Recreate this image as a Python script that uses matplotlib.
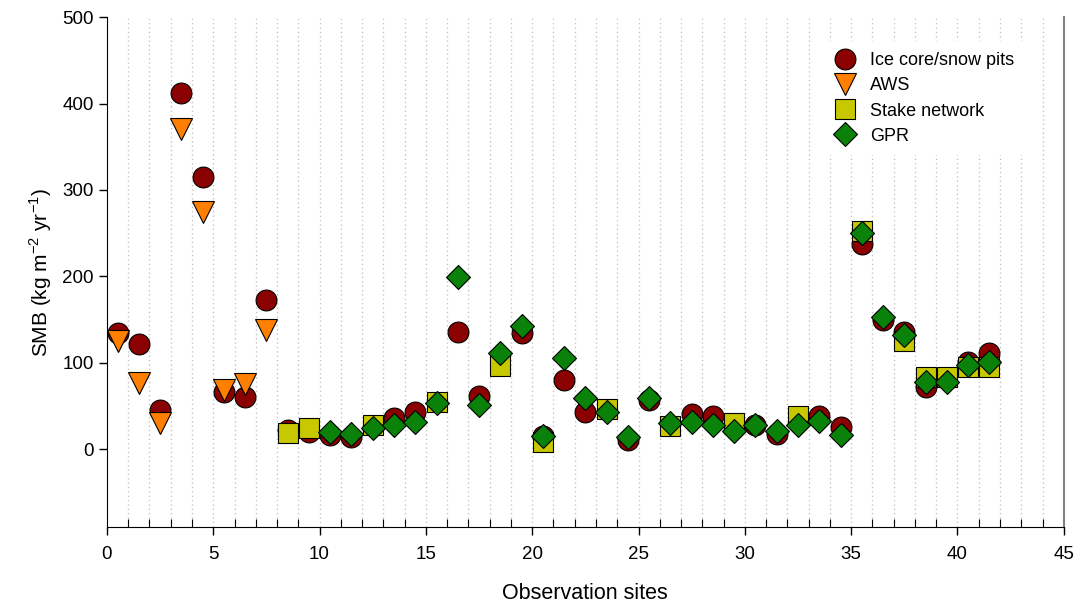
import numpy as np
import matplotlib.pyplot as plt

plt.rcParams['font.family'] = ['Liberation Sans', 'DejaVu Sans']
plt.rcParams['mathtext.fontset'] = 'custom'
plt.rcParams['mathtext.rm'] = 'Liberation Sans'

nan = np.nan
sites = np.arange(1, 43)

ice_core = [134, 122, 45, 412, 315, 66, 60, 173, 22, 20,
            17, 14, nan, 36, 43, nan, 136, 62, nan, 134,
            15, 80, 43, nan, 11, 57, nan, 41, 39, nan,
            28, 18, nan, 39, 26, 238, 149, 136, 72, nan,
            101, 111]
aws = [125, 77, 30, 370, 274, 68, 75, 138]
stake = {9: 19, 10: 24, 13: 28, 16: 55, 19: 96, 21: 8, 24: 46, 27: 27,
         30: 30, 33: 38, 36: 253, 38: 125, 39: 84, 40: 84, 41: 95, 42: 95}
gpr = {11: 20, 12: 18, 13: 24, 14: 28, 15: 32, 16: 53, 17: 199, 18: 51,
       19: 111, 20: 143, 21: 15, 22: 106, 23: 59, 24: 43, 25: 14, 26: 59,
       27: 30, 28: 32, 29: 28, 30: 21, 31: 28, 32: 21, 33: 28, 34: 33,
       35: 16, 36: 250, 37: 153, 38: 132, 39: 78, 40: 78, 41: 97, 42: 101}

x = sites - 0.5

fig = plt.figure(figsize=(10.8, 6.11), dpi=100)
ax = fig.add_axes([0.099, 0.1375, 0.886, 0.8345])

for k in range(1, 45):
    ax.axvline(k, color='#bdbdbd', lw=0.9, ls=(0, (1, 2.5)), zorder=0)

ax.plot(x, ice_core, 'o', color='#8b0000', mec='black', mew=0.8,
        ms=15, ls='none', label='Ice core/snow pits', zorder=2)
ax.plot(x[:len(aws)], aws, 'v', color='#ff8000', mec='black', mew=0.8,
        ms=16, ls='none', label='AWS', zorder=3)
ax.plot(np.array(list(stake.keys())) - 0.5, list(stake.values()), 's',
        color='#c8c800', mec='black', mew=0.8, ms=14, ls='none',
        label='Stake network', zorder=4)
ax.plot(np.array(list(gpr.keys())) - 0.5, list(gpr.values()), 'D',
        color='#0a820a', mec='black', mew=0.8, ms=12.5, ls='none',
        label='GPR', zorder=5)

ax.set_xlim(0, 45)
ax.set_ylim(-90, 500)
ax.set_xticks(np.arange(0, 46, 5))
ax.set_xticks(np.arange(0, 46, 1), minor=True)
ax.set_yticks(np.arange(0, 501, 100))
ax.tick_params(axis='both', labelsize=13.5, direction='out', length=6, width=1)
ax.tick_params(axis='x', pad=8)
ax.tick_params(axis='x', which='minor', direction='in', length=6, width=0.8)
ax.tick_params(axis='y', which='minor', left=False)

ax.spines['top'].set_visible(False)
ax.spines['right'].set_color('#808080')
ax.spines['right'].set_linewidth(1.5)

ax.set_xlabel('Observation sites', fontsize=15.5, labelpad=14)
ax.set_ylabel('SMB (kg m$^{\\mathregular{-2}}$ yr$^{\\mathregular{-1}}$)',
              fontsize=15, labelpad=6)

leg = ax.legend(loc='upper left', bbox_to_anchor=(0.735, 0.97), frameon=True,
                fontsize=13, handletextpad=0.6, labelspacing=0.45,
                borderpad=0.6, handlelength=1.6)
leg.get_frame().set_edgecolor('none')
leg.get_frame().set_facecolor('white')
leg.get_frame().set_alpha(1)

fig.savefig('out.png', dpi=100)
